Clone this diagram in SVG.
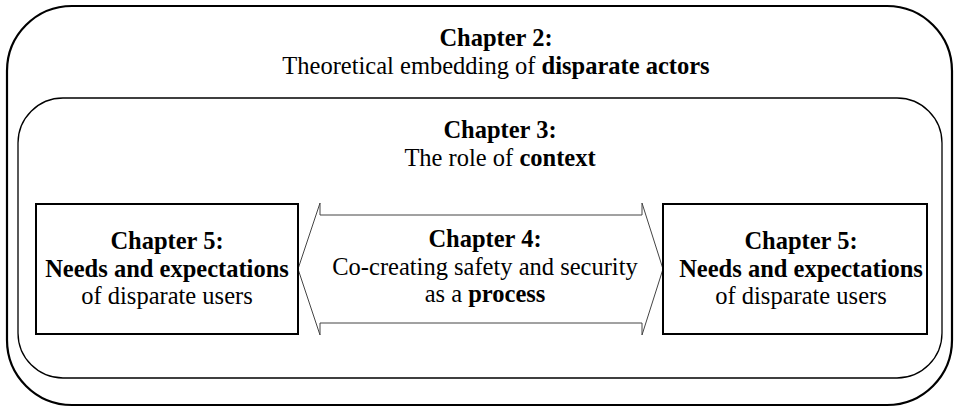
<svg xmlns="http://www.w3.org/2000/svg" width="956" height="408" viewBox="0 0 956 408">
<style>
text{font-family:"Liberation Serif","Times New Roman",serif;font-size:24.5px;fill:#000;text-anchor:middle}
.b{font-weight:bold}
.frame{fill:none;stroke:#000}
</style>
<rect width="956" height="408" fill="#fff"/>
<g id="chapter2">
<rect class="frame" x="7" y="6" width="945" height="399" rx="65" ry="65" stroke-width="2.2"/>
<text x="496" y="46" class="b">Chapter 2:</text>
<text x="496" y="74">Theoretical embedding of <tspan class="b">disparate actors</tspan></text>
</g>
<g id="chapter3">
<rect class="frame" x="18" y="98" width="924" height="280" rx="45" ry="45" stroke-width="1.3"/>
<text x="500" y="138" class="b">Chapter 3:</text>
<text x="500" y="166">The role of <tspan class="b">context</tspan></text>
</g>
<g id="connectors">
<path id="chapter4-arrow" d="M298,269 L320,203 L320,215 L642,215 L642,203 L663,269 L642,335 L642,323 L320,323 L320,335 Z" fill="#fff" stroke="#444" stroke-width="1"/>
</g>
<g id="chapter4">
<text x="485" y="247" class="b">Chapter 4:</text>
<text x="485" y="275">Co-creating safety and security</text>
<text x="485" y="302">as a <tspan class="b">process</tspan></text>
</g>
<g id="chapter5-left">
<rect class="frame" x="36" y="204" width="262" height="130" stroke-width="2"/>
<text x="167" y="249" class="b">Chapter 5:</text>
<text x="167" y="277" class="b">Needs and expectations</text>
<text x="167" y="304">of disparate users</text>
</g>
<g id="chapter5-right">
<rect class="frame" x="663" y="204" width="264" height="130" stroke-width="2"/>
<text x="801" y="249" class="b">Chapter 5:</text>
<text x="801" y="277" class="b">Needs and expectations</text>
<text x="801" y="304">of disparate users</text>
</g>
</svg>
